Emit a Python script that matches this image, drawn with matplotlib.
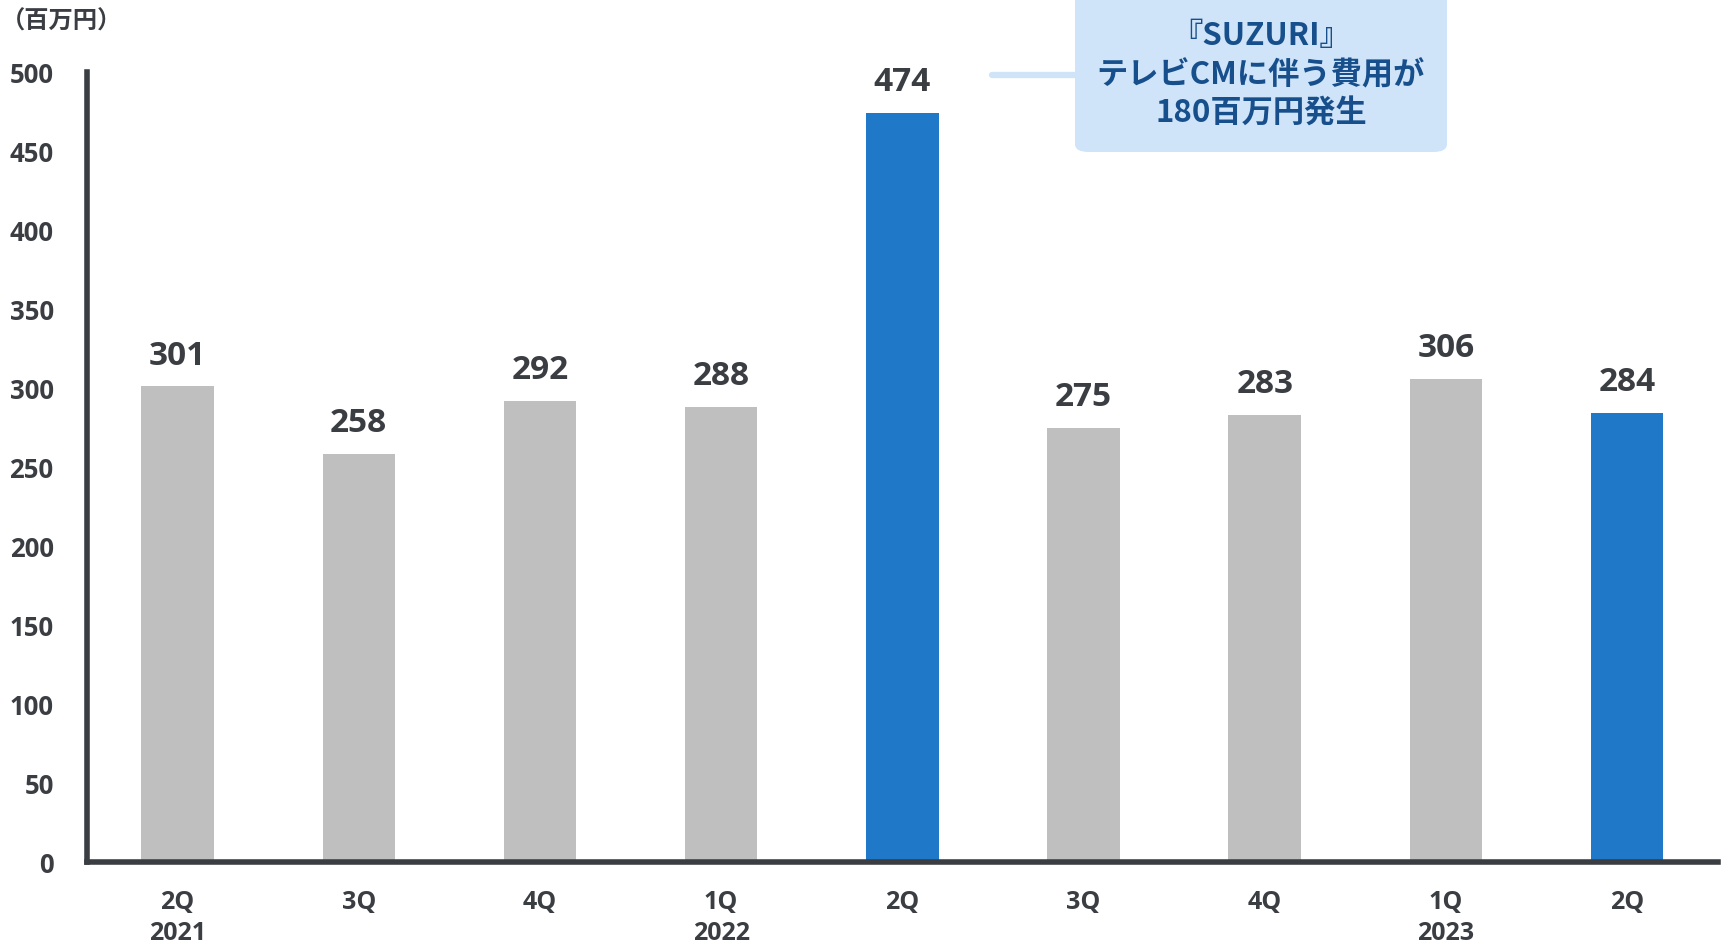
import matplotlib.pyplot as plt
from matplotlib.patches import FancyBboxPatch

quarters = ['2Q', '3Q', '4Q', '1Q', '2Q', '3Q', '4Q', '1Q', '2Q']
years = ['2021', '', '', '2022', '', '', '', '2023', '']
values = [301, 258, 292, 288, 474, 275, 283, 306, 284]
highlight = [4, 8]

note_lines = ['『SUZURI』', 'テレビCMに伴う費用が', '180百万円発生']
unit_label = '（百万円）'

GRAY = '#bfbfbf'
BLUE = '#2079c8'
DARK = '#3a3d42'
NOTE_BG = '#cfe4f8'
NOTE_TEXT = '#174f8c'
FONTS = ['Open Sans', 'Noto Sans CJK JP', 'DejaVu Sans']

plt.rcParams['font.family'] = FONTS
plt.rcParams['font.weight'] = 'bold'

fig = plt.figure(figsize=(17.22, 9.5), dpi=100)
ax = fig.add_axes([0.0505, 0.0926, 0.947, 0.8316])

x = list(range(len(values)))
colors = [BLUE if i in highlight else GRAY for i in x]
ax.bar(x, values, width=0.4, color=colors, zorder=2)

for xi, v in zip(x, values):
    ax.annotate(str(v), (xi, v), xytext=(0, 10), textcoords='offset points',
                ha='center', va='bottom', fontsize=24, fontweight='bold', color=DARK)

ax.set_xlim(-0.5, 8.5)
ax.set_ylim(0, 500)
ax.set_yticks(range(0, 501, 50))
ax.set_xticks(x)
ax.set_xticklabels([q + '\n' + y if y else q for q, y in zip(quarters, years)],
                   linespacing=1.3, va='top')

for label in ax.get_xticklabels():
    label.set_fontsize(18)
for label in ax.get_yticklabels():
    label.set_fontsize(18.5)
for label in ax.get_xticklabels() + ax.get_yticklabels():
    label.set_fontweight('bold')
    label.set_color(DARK)

ax.tick_params(axis='x', length=0, pad=20)
ax.tick_params(axis='y', length=0, pad=24)

for side in ['top', 'right']:
    ax.spines[side].set_visible(False)
for side in ['left', 'bottom']:
    ax.spines[side].set_linewidth(4)
    ax.spines[side].set_color(DARK)
    ax.spines[side].set_capstyle('projecting')

fig.text(1 / 1722, 1 - 22 / 950, unit_label, ha='left', va='center',
         fontsize=17.5, fontweight='bold', color=DARK,
         family=['Noto Sans CJK JP', 'DejaVu Sans'])

# callout for the TV commercial cost
box = FancyBboxPatch((1075 / 1722, 1 - 152 / 950), 372 / 1722, 160 / 950,
                     boxstyle='round,pad=0,rounding_size=0.008',
                     transform=fig.transFigure, facecolor=NOTE_BG,
                     edgecolor='none', zorder=3)
fig.patches.append(box)
fig.add_artist(plt.Line2D([992 / 1722, 1076 / 1722], [1 - 75 / 950, 1 - 75 / 950],
                          transform=fig.transFigure, color=NOTE_BG, lw=4.5,
                          solid_capstyle='round', zorder=3))
for i, line in enumerate(note_lines):
    fig.text(1261 / 1722, 1 - (36 + 39 * i) / 950, line, ha='center', va='center',
             fontsize=22.5, fontweight='bold', color=NOTE_TEXT,
             family=['Noto Sans CJK JP', 'DejaVu Sans'], zorder=4)

fig.savefig('out.png', dpi=100)
